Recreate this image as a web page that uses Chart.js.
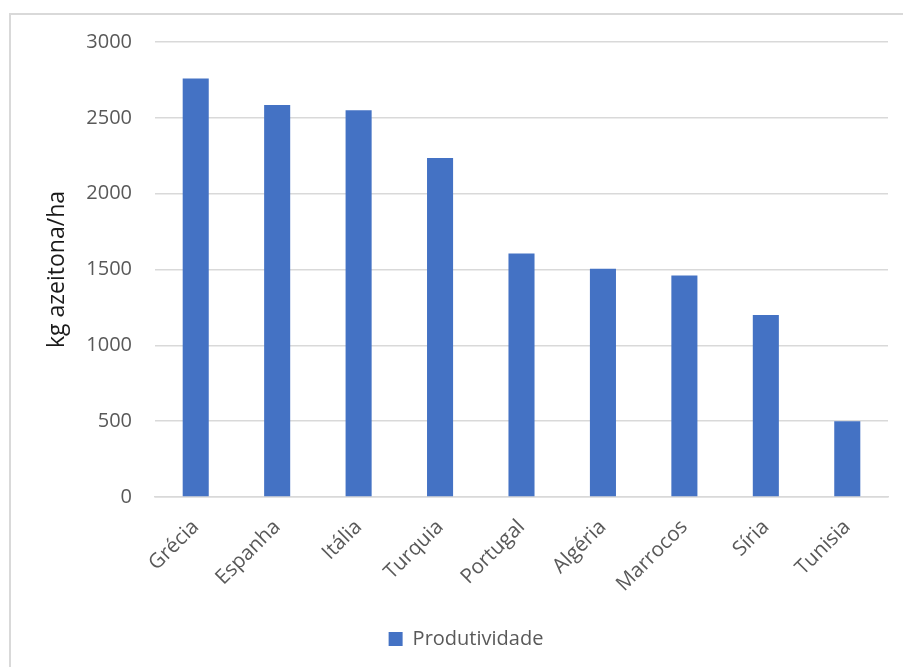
<!DOCTYPE html>
<html>
<head>
<meta charset="utf-8">
<script src="https://cdn.jsdelivr.net/npm/chart.js@4"></script>
<style>
  html, body { margin: 0; padding: 0; background: #fff; overflow: hidden; }
  #frame {
    position: absolute; left: 9px; top: 13px; width: 1000px; height: 1000px;
    border-left: 2px solid #d9d9d9; border-top: 2px solid #d9d9d9;
  }
  #wrap { position: absolute; left: 0; top: 0; width: 903px; height: 667px; }
</style>
</head>
<body>
<div id="frame"></div>
<div id="wrap"><canvas id="chart"></canvas></div>
<script>
// data
const countries = ["Grécia", "Espanha", "Itália", "Turquia", "Portugal", "Algéria", "Marrocos", "Síria", "Tunisia"];
const produtividade = [2760, 2585, 2550, 2235, 1605, 1505, 1460, 1200, 500];
const yTicks = [0, 500, 1000, 1500, 2000, 2500, 3000];

Chart.defaults.font.family = "'Open Sans', sans-serif";
Chart.defaults.color = "#595959";

let ctx = document.getElementById("chart").getContext("2d");

new Chart(ctx, {
  type: "bar",
  data: {
    labels: countries,
    datasets: [{
      label: "Produtividade",
      data: produtividade,
      backgroundColor: "#4472C4",
      borderWidth: 0,
      categoryPercentage: 1,
      barPercentage: 0.32
    }]
  },
  options: {
    responsive: true,
    maintainAspectRatio: false,
    animation: false,
    layout: {
      padding: { top: 42, right: 15, bottom: 8, left: 44 }
    },
    plugins: {
      legend: {
        position: "bottom",
        labels: {
          boxWidth: 14,
          boxHeight: 14,
          color: "#595959",
          font: { size: 20 }
        }
      },
      tooltip: { enabled: false }
    },
    scales: {
      x: {
        grid: { display: false, drawTicks: false },
        border: { display: true, color: "#d9d9d9", width: 1.5 },
        ticks: {
          color: "#595959",
          font: { size: 20.5 },
          minRotation: 45,
          maxRotation: 45,
          padding: 18
        },
        afterFit: function (scale) { scale.height = 122; }
      },
      y: {
        min: 0,
        max: 3000,
        afterBuildTicks: function (scale) {
          scale.ticks = yTicks.map(v => ({ value: v }));
        },
        grid: { color: "#d9d9d9", lineWidth: 1.5, drawTicks: false },
        border: { display: false },
        ticks: {
          color: "#595959",
          font: { size: 20 },
          padding: 23,
          callback: function (value) { return String(value); }
        },
        title: {
          display: true,
          text: "kg azeitona/ha",
          color: "#1a1a1a",
          font: { size: 23 },
          padding: { top: 0, bottom: 0 }
        },
        afterFit: function (scale) { scale.width = 111; }
      }
    }
  }
});
</script>
</body>
</html>
